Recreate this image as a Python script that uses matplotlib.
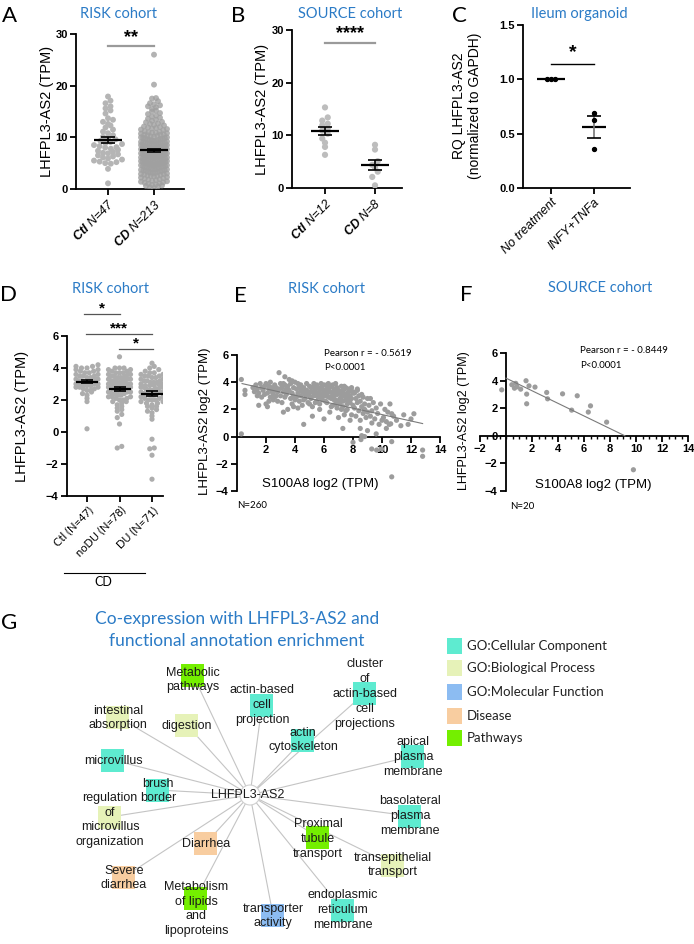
import numpy as np
import matplotlib.pyplot as plt
from matplotlib.patches import Rectangle, Circle
from matplotlib.ticker import MultipleLocator

W, H = 694, 944
plt.rcParams['font.family'] = ['Liberation Sans', 'DejaVu Sans']
plt.rcParams['mathtext.fontset'] = 'custom'
plt.rcParams['mathtext.rm'] = 'Liberation Sans:italic'
plt.rcParams['mathtext.it'] = 'Liberation Sans:italic'
plt.rcParams['mathtext.bf'] = 'Liberation Sans:italic:bold'

BLUE = '#2b7bc6'
CAL = ['Lato', 'DejaVu Sans']

# ---------------- data ----------------
# A  RISK cohort, TPM
a_ctl = [1.1, 3.9, 4.9, 5.0, 5.2, 5.3, 5.5, 5.7, 5.9, 6.1,
         6.3, 6.5, 6.7, 6.9, 7.0, 7.2, 7.4, 7.6, 7.8, 8.0,
         8.1, 8.3, 8.5, 8.7, 8.9, 9.1, 9.3, 9.6, 9.9, 10.1,
         10.4, 10.8, 11.1, 11.5, 11.9, 12.3, 12.6, 13.0, 13.4, 13.7,
         14.6, 15.2, 15.6, 16.0, 16.6, 17.1, 17.9]
a_cd = [0.2, 0.3, 0.5, 0.6, 0.7, 0.8, 0.9, 1.0,
        1.1, 1.2, 1.3, 1.4, 1.5, 1.6, 1.7, 1.8, 1.9, 2.0,
        2.1, 2.2, 2.3, 2.4, 2.5, 2.5, 2.6, 2.7, 2.8, 2.9, 2.9, 3.0,
        3.1, 3.1, 3.2, 3.3, 3.3, 3.4, 3.5, 3.5, 3.6, 3.7, 3.7, 3.8, 3.9, 3.9, 4.0, 4.0,
        4.1, 4.1, 4.2, 4.3, 4.3, 4.4, 4.5, 4.5, 4.6, 4.6, 4.7, 4.7, 4.8, 4.8, 4.9, 4.9, 5.0, 5.0,
        5.1, 5.1, 5.2, 5.2, 5.3, 5.3, 5.4, 5.4, 5.5, 5.5, 5.6, 5.6, 5.7, 5.7, 5.8, 5.8, 5.9, 5.9, 6.0, 6.0,
        6.1, 6.1, 6.2, 6.2, 6.3, 6.3, 6.4, 6.4, 6.5, 6.5, 6.5, 6.6, 6.6, 6.7, 6.7, 6.8, 6.8, 6.9, 6.9, 7.0, 7.0, 7.0,
        7.1, 7.1, 7.2, 7.2, 7.3, 7.3, 7.4, 7.4, 7.5, 7.5, 7.5, 7.6, 7.6, 7.7, 7.7, 7.8, 7.8, 7.9, 7.9, 8.0, 8.0, 8.0,
        8.1, 8.1, 8.2, 8.2, 8.3, 8.3, 8.4, 8.4, 8.5, 8.5, 8.6, 8.6, 8.7, 8.7, 8.8, 8.8, 8.9, 8.9, 9.0, 9.0,
        9.1, 9.1, 9.2, 9.3, 9.3, 9.4, 9.5, 9.5, 9.6, 9.7, 9.7, 9.8, 9.9, 9.9, 10.0, 10.0,
        10.1, 10.2, 10.3, 10.4, 10.5, 10.5, 10.6, 10.7, 10.8, 10.9, 10.9, 11.0,
        11.1, 11.2, 11.4, 11.5, 11.6, 11.7, 11.8, 11.9, 12.0,
        12.1, 12.3, 12.4, 12.6, 12.7, 12.9, 13.0,
        13.2, 13.4, 13.6, 13.8, 14.0,
        14.2, 14.5, 14.7, 15.0, 15.2, 15.5, 15.8, 16.0,
        16.2, 16.4, 16.6, 17.0, 17.5, 17.6, 20.2, 26.0]
a_labels = [r'$\mathbf{Ctl}$ N=47', r'$\mathbf{CD}$ N=213']

# B  SOURCE cohort, TPM
b_ctl = [6.3, 7.8, 8.6, 9.4, 10.3, 10.9, 11.3, 11.9, 12.2, 12.8, 13.4, 15.3]
b_cd = [0.5, 2.1, 3.1, 3.9, 4.4, 5.1, 7.3, 8.2]
b_labels = [r'$\mathbf{Ctl}$ N=12', r'$\mathbf{CD}$ N=8']

# C  Ileum organoid, RQ
c_nt = [1.0, 1.0, 1.0]
c_inf = [0.36, 0.63, 0.69]
c_labels = ['No treatment', 'INFY+TNFa']

# D  RISK cohort, log2 TPM
d_ctl = [0.2, 1.9, 2.1, 2.3, 2.4, 2.5, 2.6, 2.6, 2.7, 2.7, 2.8, 2.8, 2.8, 2.9, 2.9, 2.9,
         3.0, 3.0, 3.0, 3.1, 3.1, 3.1, 3.2, 3.2, 3.2, 3.3, 3.3, 3.3, 3.4, 3.4, 3.5, 3.5,
         3.5, 3.6, 3.6, 3.7, 3.7, 3.8, 3.8, 3.9, 3.9, 4.0, 4.0, 4.1, 4.1, 4.2, 3.0]
d_nodu = [-1.0, -0.9, 0.5, 0.9, 1.1, 1.3, 1.5, 1.6, 1.7, 1.8, 1.9, 2.0, 2.0, 2.1, 2.1,
          2.2, 2.2, 2.3, 2.3, 2.4, 2.4, 2.4, 2.5, 2.5, 2.5, 2.6, 2.6, 2.6, 2.7, 2.7,
          2.7, 2.7, 2.8, 2.8, 2.8, 2.8, 2.9, 2.9, 2.9, 3.0, 3.0, 3.0, 3.0, 3.1, 3.1,
          3.1, 3.2, 3.2, 3.2, 3.3, 3.3, 3.3, 3.4, 3.4, 3.4, 3.5, 3.5, 3.5, 3.6, 3.6,
          3.7, 3.7, 3.7, 3.8, 3.8, 3.9, 3.9, 4.0, 4.0, 3.6, 2.2, 1.9, 2.6, 2.9, 3.4,
          4.0, 4.7, 1.4]
d_du = [-2.95, -1.45, -1.05, -1.0, -0.45, 0.8, 1.0, 1.2, 1.3, 1.4, 1.5, 1.6, 1.7, 1.8, 1.8,
        1.9, 1.9, 2.0, 2.0, 2.1, 2.1, 2.2, 2.2, 2.3, 2.3, 2.4, 2.4, 2.5, 2.5, 2.5,
        2.6, 2.6, 2.6, 2.7, 2.7, 2.7, 2.8, 2.8, 2.8, 2.9, 2.9, 3.0, 3.0, 3.0, 3.1,
        3.1, 3.1, 3.2, 3.2, 3.3, 3.3, 3.4, 3.4, 3.5, 3.5, 3.6, 3.6, 3.7, 3.7, 3.8,
        3.9, 4.0, 4.1, 4.3, 2.0, 2.4, 2.8, 3.2, 1.6, 3.5, 2.9]
d_labels = ['Ctl (N=47)', 'noDU (N=78)', 'DU (N=71)']

# E  RISK cohort correlation (S100A8 vs LHFPL3-AS2, log2 TPM)
e_x = [0.3, 0.3, 0.55, 0.55,
       1.1, 1.2, 1.3, 1.4, 1.5, 1.5, 1.6, 1.7, 1.7, 1.8, 1.9, 1.9, 2.0, 1.4,
       2.0, 2.1, 2.1, 2.2, 2.2, 2.3, 2.3, 2.4, 2.4, 2.5, 2.5, 2.6, 2.6, 2.7, 2.7, 2.8, 2.8, 2.9, 2.9, 3.0, 2.2, 2.6,
       3.0, 3.1, 3.1, 3.2, 3.2, 3.3, 3.3, 3.3, 3.4, 3.4, 3.5, 3.5, 3.6, 3.6, 3.7, 3.7, 3.8, 3.8, 3.9, 3.9, 4.0, 4.0, 3.2, 3.5, 3.8, 3.9,
       4.1, 4.1, 4.2, 4.2, 4.3, 4.3, 4.4, 4.4, 4.5, 4.5, 4.6, 4.6, 4.7, 4.7, 4.8, 4.8, 4.9, 4.9, 5.0, 5.0, 4.2, 4.4, 4.6, 4.8, 5.0, 4.3, 4.5, 4.7,
       5.1, 5.1, 5.2, 5.2, 5.3, 5.3, 5.4, 5.4, 5.5, 5.5, 5.6, 5.6, 5.7, 5.7, 5.8, 5.8, 5.9, 5.9, 6.0, 6.0, 5.2, 5.3, 5.5, 5.6, 5.8, 5.9, 5.4, 5.7, 6.0, 5.1, 5.5, 5.8,
       6.1, 6.1, 6.2, 6.2, 6.3, 6.3, 6.4, 6.4, 6.5, 6.5, 6.6, 6.6, 6.7, 6.7, 6.8, 6.8, 6.9, 6.9, 7.0, 7.0, 6.1, 6.2, 6.3, 6.4, 6.5, 6.6, 6.7, 6.8, 6.9, 7.0, 6.2, 6.4, 6.6, 6.8, 6.3, 6.7,
       7.1, 7.1, 7.2, 7.2, 7.3, 7.3, 7.4, 7.4, 7.5, 7.5, 7.6, 7.6, 7.7, 7.7, 7.8, 7.8, 7.9, 7.9, 8.0, 8.0, 7.1, 7.2, 7.3, 7.4, 7.5, 7.6, 7.7, 7.8, 7.9, 8.0, 7.2, 7.4, 7.6, 7.8, 7.3, 7.5,
       8.1, 8.1, 8.2, 8.2, 8.3, 8.3, 8.4, 8.4, 8.5, 8.5, 8.6, 8.6, 8.7, 8.7, 8.8, 8.8, 8.9, 9.0, 9.0, 8.0, 8.55, 8.6, 8.3, 8.5, 8.8, 9.0,
       9.1, 9.2, 9.2, 9.3, 9.3, 9.4, 9.5, 9.6, 9.6, 9.63, 9.7, 9.8, 9.9, 9.97, 10.0, 9.29,
       10.1, 10.2, 10.3, 10.3, 10.4, 10.5, 10.55, 10.6, 10.67, 10.67, 10.67, 10.8,
       11.0, 11.3, 11.5, 11.8, 12.0, 12.2, 12.8, 12.8]
e_y = [4.2, 0.2, 3.4, 3.1,
       3.6, 3.3, 3.8, 3.5, 3.2, 2.3, 3.9, 3.6, 2.9, 3.4, 3.7, 3.1, 2.4, 3.0,
       3.9, 3.2, 2.2, 3.7, 3.5, 4.0, 2.9, 3.3, 3.6, 3.1, 2.7, 3.8, 3.4, 3.0, 3.6, 2.6, 3.3, 4.7, 3.5, 3.9, 2.6, 2.9,
       3.0, 3.6, 2.5, 3.3, 1.8, 4.4, 3.8, 2.9, 3.5, 3.1, 2.0, 3.7, 4.2, 3.4, 2.8, 3.9, 3.2, 2.4, 3.6, 3.0, 4.0, 2.7, 3.9, 3.3, 4.1, 2.2,
       3.5, 2.9, 3.9, 3.2, 3.6, 2.6, 3.0, 3.8, 3.3, 2.3, 0.9, 3.6, 3.1, 2.8, 3.4, 3.9, 2.5, 3.2, 3.7, 3.0, 2.1, 3.4, 2.7, 3.1, 2.4, 3.8, 3.5, 3.3,
       3.6, 2.8, 3.3, 1.5, 3.9, 3.0, 3.5, 2.5, 3.8, 3.2, 2.9, 3.6, 3.4, 2.0, 3.1, 3.9, 2.7, 3.5, 3.3, 1.3, 2.2, 3.7, 2.6, 3.1, 3.6, 3.0, 3.2, 2.4, 3.8, 3.3, 3.0, 2.8,
       3.4, 2.6, 3.8, 3.1, 2.9, 3.6, 3.3, 1.8, 3.7, 2.8, 3.2, 2.3, 3.5, 3.0, 2.7, 3.9, 3.1, 2.1, 3.4, 2.6, 3.0, 2.5, 3.3, 3.6, 2.2, 3.8, 2.7, 3.2, 3.6, 1.4, 3.5, 2.9, 3.1, 2.4, 3.9, 3.3,
       3.3, 2.4, 3.7, 2.9, 2.2, 3.4, 3.1, 1.6, 3.6, 2.7, 2.0, 3.2, 3.5, 2.6, 1.2, 3.0, 2.8, 3.6, 2.3, 3.3, 2.8, 3.1, 2.6, 3.5, 1.9, 2.9, 3.3, 2.5, 1.6, 3.2, 2.0, 3.7, 2.4, 3.4, 0.6, 2.9,
       3.2, 2.1, 2.8, 1.5, 3.4, 2.5, 1.9, 3.0, 2.6, 1.2, 3.1, 2.2, 1.7, 2.9, 0.0, 2.4, 1.4, 2.8, 0.44, -0.42, -0.22, 0.07, 3.5, 0.6, 2.0, 1.8,
       2.3, 1.5, 2.8, 1.0, 1.9, 2.5, 1.3, 2.1, 0.2, -0.99, 1.7, 0.9, 2.4, -0.91, 1.2, -0.91,
       1.4, 2.0, 0.6, 1.1, 1.8, 0.9, 2.4, 0.94, 1.68, -0.37, -2.96, 1.5,
       1.2, 0.8, 1.6, 0.9, 1.3, 1.68, -0.99, -1.45]
e_fit = (3.98, -0.236)          # intercept, slope
e_fit_range = (0.35, 12.8)

# F  SOURCE cohort correlation
f_x = [-0.33, 0.45, 0.75, 0.85, 0.65, 1.13, 1.54, 1.59, 1.59, 1.77,
       2.23, 3.13, 3.2, 4.35, 5.05, 5.48, 6.33, 6.5, 7.74, 9.8]
f_y = [3.33, 3.7, 3.8, 3.55, 3.45, 3.38, 3.99, 3.02, 2.32, 3.62,
       3.53, 3.14, 2.68, 3.04, 1.86, 2.9, 1.72, 2.17, 0.99, -2.46]
f_fit = (4.18, -0.457)
f_fit_range = (0.0, 9.15)

# G  network
cat_names = ['GO:Cellular Component', 'GO:Biological Process', 'GO:Molecular Function',
             'Disease', 'Pathways']
cat_colors = ['#5eebd0', '#e6f2b8', '#8cbcf2', '#f8cda0', '#74ef00']
node_labels = ['Metabolic\npathways', 'actin-based\ncell\nprojection',
               'cluster\nof\nactin-based\ncell\nprojections', 'intestinal\nabsorption',
               'digestion', 'actin\ncytoskeleton', 'apical\nplasma\nmembrane', 'microvillus',
               'brush\nborder', 'regulation\nof\nmicrovillus\norganization',
               'basolateral\nplasma\nmembrane', 'Proximal\ntubule\ntransport', 'Diarrhea',
               'transepithelial\ntransport', 'Severe\ndiarrhea',
               'Metabolism\nof lipids\nand\nlipoproteins', 'transporter\nactivity',
               'endoplasmic\nreticulum\nmembrane']
node_cat = [4, 0, 0, 1, 1, 0, 0, 0, 0, 1, 0, 4, 3, 1, 3, 4, 2, 0]
node_x = [193, 262, 365, 118, 187, 303, 413, 113, 158, 110, 410, 318, 206, 393, 124, 196, 273, 343]
node_y = [675, 705, 693, 717, 725, 740, 756, 760, 790, 817, 816, 837, 843, 865, 877, 898, 915, 910]
label_dy = [5, 0, 1, 1, 1, 0, 1, 1, 1, 3, 0, 2, 1, 0, 1, 11, 1, 0]
hub_xy = (250, 795)
legend_y = [646, 668, 692, 716, 738]

# ---------------- helpers ----------------
fig = plt.figure(figsize=(W / 100, H / 100), dpi=100)


def add_ax(x0, y0, x1, y1):
    return fig.add_axes([x0 / W, 1 - y1 / H, (x1 - x0) / W, (y1 - y0) / H])


def ftext(x, y, s, **kw):
    fig.text(x / W, 1 - y / H, s, **kw)


def style(ax):
    for s in ['top', 'right']:
        ax.spines[s].set_visible(False)
    for s in ['left', 'bottom']:
        ax.spines[s].set_linewidth(1.3)
    ax.tick_params(width=1.3, length=4, labelsize=8, pad=2)


def bold_y(ax):
    plt.setp(ax.get_yticklabels(), fontweight='bold')


def swarm(vals, pos, ppu_y, ppu_x, dot=5.0, maxw=14.0):
    vals = np.asarray(vals, float)
    off = np.zeros(len(vals))
    rows = np.floor(vals * ppu_y / dot).astype(int)
    for r in np.unique(rows):
        idx = np.where(rows == r)[0]
        idx = idx[np.argsort(vals[idx])]
        n = len(idx)
        p = (np.arange(n) - (n - 1) / 2) * dot
        if n * dot > 2 * maxw:
            p = np.linspace(-maxw, maxw, n)
        p = p[np.argsort(np.abs(p), kind='stable')]
        off[idx] = p / ppu_x
    return pos + off


def mean_sem(ax, pos, vals, half, cap, ppu_x, color='k', ecolor='k'):
    v = np.asarray(vals, float)
    m = v.mean()
    se = v.std(ddof=1) / np.sqrt(len(v))
    ax.hlines(m, pos - half / ppu_x, pos + half / ppu_x, color=color, lw=1.6, zorder=5)
    if se > 0:
        ax.vlines(pos, m - se, m + se, color=ecolor, lw=1.2, zorder=5)
        ax.hlines([m - se, m + se], pos - cap / ppu_x, pos + cap / ppu_x,
                  color=color, lw=1.2, zorder=5)


def sig(ax, x0, x1, y, text, ty, color, fs, lw=1.2):
    ax.plot([x0, x1], [y, y], color=color, lw=lw, clip_on=False)
    ax.text((x0 + x1) / 2, ty, text, ha='center', va='center', fontsize=fs,
            fontweight='bold', clip_on=False)


# ---------------- A ----------------
axA = add_ax(76, 34, 184, 189)
style(axA)
ppx, ppy = 46.0, 155 / 30
axA.scatter(swarm(a_ctl, 0, ppy, ppx, 5, 14), a_ctl, s=18, color='#b5b5b5', edgecolor='none', zorder=3)
axA.scatter(swarm(a_cd, 1, ppy, ppx, 4, 13), a_cd, s=18, color='#a0a0a0', alpha=0.8, edgecolor='none', zorder=3)
mean_sem(axA, 0, a_ctl, 14, 7, ppx)
mean_sem(axA, 1, a_cd, 14, 7, ppx)
axA.set_xlim(-32 / ppx, 76 / ppx)
axA.set_ylim(0, 30)
axA.set_yticks([0, 10, 20, 30])
bold_y(axA)
axA.set_xticks([0, 1])
axA.set_xticklabels(a_labels, rotation=45, ha='right', rotation_mode='anchor',
                    fontsize=9, fontstyle='italic')
sig(axA, 0, 1, 27.7, '**', 29.3, '#9a9a9a', 13, lw=1.6)

# ---------------- B ----------------
axB = add_ax(292, 30, 402, 188)
style(axB)
ppx, ppy = 50.0, 158 / 30
axB.scatter(swarm(b_ctl, 0, ppy, ppx, 5.5, 14), b_ctl, s=20, color='#bdbdbd', edgecolor='none', zorder=3)
axB.scatter(swarm(b_cd, 1, ppy, ppx, 5.5, 14), b_cd, s=20, color='#bdbdbd', edgecolor='none', zorder=3)
mean_sem(axB, 0, b_ctl, 14, 7, ppx)
mean_sem(axB, 1, b_cd, 14, 7, ppx)
axB.set_xlim(-33 / ppx, 77 / ppx)
axB.set_ylim(0, 30)
axB.set_yticks([0, 10, 20, 30])
bold_y(axB)
axB.set_xticks([0, 1])
axB.set_xticklabels(b_labels, rotation=45, ha='right', rotation_mode='anchor',
                    fontsize=9, fontstyle='italic')
sig(axB, 0, 1, 27.5, '****', 29.3, '#9a9a9a', 13, lw=1.6)

# ---------------- C ----------------
axC = add_ax(523, 25, 630, 188)
style(axC)
ppx, ppy = 43.0, 163 / 1.5
axC.scatter(swarm(c_nt, 0, ppy, ppx, 4, 14), c_nt, s=8, color='k', zorder=6)
axC.scatter(swarm(c_inf, 1, ppy, ppx, 4, 14), c_inf, s=8, color='k', zorder=6)
mean_sem(axC, 0, c_nt, 14, 7, ppx)
mean_sem(axC, 1, c_inf, 12, 7, ppx, ecolor='#777777')
axC.set_xlim(-28 / ppx, 79 / ppx)
axC.set_ylim(0, 1.5)
axC.set_yticks([0, 0.5, 1.0, 1.5])
axC.set_yticklabels(['0.0', '0.5', '1.0', '1.5'])
bold_y(axC)
axC.set_xticks([0, 1])
axC.set_xticklabels(c_labels, rotation=45, ha='right', rotation_mode='anchor',
                    fontsize=9, fontstyle='italic')
sig(axC, 0, 1, 1.14, '*', 1.25, 'k', 14, lw=1.0)

# ---------------- D ----------------
axD = add_ax(67, 336, 163, 496)
style(axD)
ppx, ppy = 32.5, 16.0
axD.scatter(swarm(d_ctl, 0, ppy, ppx, 4.5, 11), d_ctl, s=14, color='#adadad', edgecolor='none', zorder=3)
axD.scatter(swarm(d_nodu, 1, ppy, ppx, 4.5, 11), d_nodu, s=14, color='#adadad', edgecolor='none', zorder=3)
axD.scatter(swarm(d_du, 2, ppy, ppx, 4.5, 11), d_du, s=14, color='#adadad', edgecolor='none', zorder=3)
for i, v in enumerate([d_ctl, d_nodu, d_du]):
    mean_sem(axD, i, v, 11, 6, ppx)
axD.set_xlim(-20 / ppx, 76 / ppx)
axD.set_ylim(-4, 6)
axD.set_yticks([-4, -2, 0, 2, 4, 6])
bold_y(axD)
axD.set_xticks([0, 1, 2])
axD.set_xticklabels(d_labels, rotation=45, ha='right', rotation_mode='anchor',
                    fontsize=8, family=CAL)
sig(axD, -0.1, 1.02, 7.4, '*', 7.75, '#555555', 11, lw=0.9)
sig(axD, -0.03, 2.0, 6.12, '***', 6.45, '#555555', 11, lw=0.9)
sig(axD, 0.97, 2.03, 5.2, '*', 5.55, '#555555', 11, lw=0.9)
fig.add_artist(plt.Line2D([64 / W, 145 / W], [1 - 573 / H, 1 - 573 / H], color='k', lw=0.8))
ftext(103, 582, 'CD', ha='center', va='center', fontsize=9, family=CAL)

# ---------------- E ----------------
axE = add_ax(237, 355, 440, 491)
style(axE)
axE.scatter(e_x, e_y, s=14, color='#9c9c9c', edgecolor='none', zorder=3)
xs = np.array(e_fit_range)
axE.plot(xs, e_fit[0] + e_fit[1] * xs, color='#7a7a7a', lw=0.8, zorder=4)
axE.set_xlim(0, 14)
axE.set_ylim(-4, 6)
axE.spines['bottom'].set_position(('data', 0))
axE.set_xticks([2, 4, 6, 8, 10, 12, 14])
axE.set_yticks([-4, -2, 0, 2, 4, 6])
bold_y(axE)
plt.setp(axE.get_xticklabels(), fontweight='bold')
axE.text(6.0, 6.1, 'Pearson r = - 0.5619', fontsize=7, family=CAL, va='center', ha='left', clip_on=False)
axE.text(6.0, 5.05, 'P<0.0001', fontsize=7, family=CAL, va='center', ha='left')

# ---------------- F ----------------
axF = add_ax(480, 353, 688, 491)
style(axF)
axF.scatter(f_x, f_y, s=14, color='#9c9c9c', edgecolor='none', zorder=3)
xs = np.array(f_fit_range)
axF.plot(xs, f_fit[0] + f_fit[1] * xs, color='#7a7a7a', lw=0.8, zorder=4)
axF.set_xlim(-2, 14)
axF.set_ylim(-4, 6)
axF.spines['bottom'].set_position(('data', 0))
axF.spines['left'].set_position(('data', 0))
axF.set_xticks([-2, 2, 4, 6, 8, 10, 12, 14])
axF.xaxis.set_minor_locator(MultipleLocator(0.5))
axF.tick_params(axis='x', which='minor', length=2.5, width=1.0)
axF.set_yticks([-4, -2, 0, 2, 4, 6])
bold_y(axF)
plt.setp(axF.get_xticklabels(), fontweight='bold')
axF.text(5.7, 6.2, 'Pearson r = - 0.8449', fontsize=7, family=CAL, va='center', ha='left', clip_on=False)
axF.text(5.7, 5.1, 'P<0.0001', fontsize=7, family=CAL, va='center', ha='left')

# ---------------- axis labels / titles ----------------
ftext(47, 111, 'LHFPL3-AS2 (TPM)', rotation=90, ha='center', va='center', fontsize=10.5)
ftext(262, 109, 'LHFPL3-AS2 (TPM)', rotation=90, ha='center', va='center', fontsize=10.5)
ftext(467, 106, 'RQ LHFPL3-AS2\n(normalized to GAPDH)', rotation=90, ha='center',
      va='center', fontsize=10, linespacing=1.15)
ftext(22, 416, 'LHFPL3-AS2 (TPM)', rotation=90, ha='center', va='center', fontsize=10.5)
ftext(205, 421, 'LHFPL3-AS2 log2 (TPM)', rotation=90, ha='center', va='center', fontsize=9.5)
ftext(464, 421, 'LHFPL3-AS2 log2 (TPM)', rotation=90, ha='center', va='center', fontsize=9)
ftext(320, 484, 'S100A8 log2 (TPM)', ha='center', va='center', fontsize=9.5)
ftext(593, 485, 'S100A8 log2 (TPM)', ha='center', va='center', fontsize=9.5)
ftext(252, 506, 'N=260', ha='center', va='center', fontsize=7, family=CAL)
ftext(522, 507, 'N=20', ha='center', va='center', fontsize=7, family=CAL)

for x, y, t in [(119, 14, 'RISK cohort'), (350, 14, 'SOURCE cohort'), (579, 14, 'Ileum organoid'),
                (110, 289, 'RISK cohort'), (327, 289, 'RISK cohort'), (600, 288, 'SOURCE cohort')]:
    ftext(x, y, t, ha='center', va='center', fontsize=10.5, color=BLUE, family=CAL)

for x, y, t in [(9, 16, 'A'), (238, 16, 'B'), (459, 16, 'C'), (9, 295, 'D'),
                (240, 296, 'E'), (466, 295, 'F'), (9, 623, 'G')]:
    ftext(x, y, t, ha='center', va='center', fontsize=16, family=CAL)

ftext(237, 630, 'Co-expression with LHFPL3-AS2 and\nfunctional annotation enrichment',
      ha='center', va='center', fontsize=12.5, color=BLUE, family=CAL, linespacing=1.45)

# ---------------- G network ----------------
axG = add_ax(0, 600, W, H)
axG.set_xlim(0, W)
axG.set_ylim(H, 600)
axG.axis('off')
for x, y in zip(node_x, node_y):
    axG.plot([hub_xy[0], x], [hub_xy[1], y], color='#c4c4c4', lw=0.8, zorder=1)
axG.add_patch(Circle(hub_xy, 10, facecolor='white', edgecolor='#d0d0d0', lw=0.8, zorder=2))
sq = 23
for lab, c, x, y, dy in zip(node_labels, node_cat, node_x, node_y, label_dy):
    axG.add_patch(Rectangle((x - sq / 2, y - sq / 2), sq, sq, facecolor=cat_colors[c],
                            edgecolor='none', zorder=2))
    axG.text(x, y + dy, lab, ha='center', va='center', fontsize=9, linespacing=1.33,
             color='#1a1a1a', zorder=3)
axG.text(hub_xy[0] - 2, hub_xy[1], 'LHFPL3-AS2', ha='center', va='center', fontsize=9,
         color='#1a1a1a', zorder=3)

# legend
for name, col, ly in zip(cat_names, cat_colors, legend_y):
    axG.add_patch(Rectangle((447, ly - 8), 15, 16, facecolor=col, edgecolor='none'))
    axG.text(467, ly, name, ha='left', va='center', fontsize=9.5, family=CAL, color='#222222')

fig.savefig('out.png', dpi=100)
